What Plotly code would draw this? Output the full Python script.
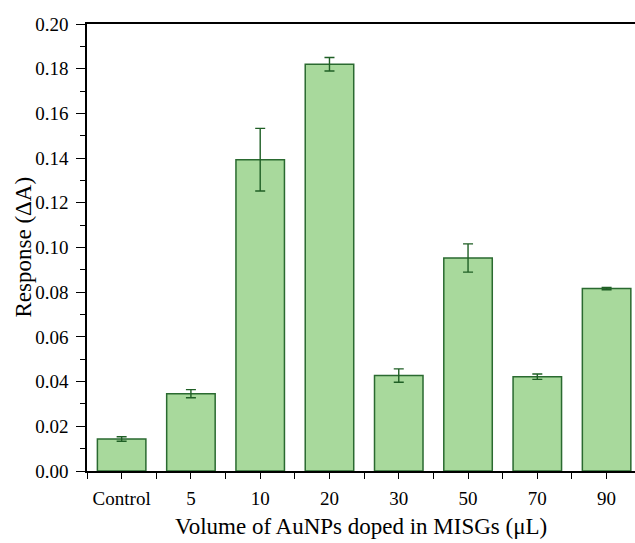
import plotly.graph_objects as go

categories = ["Control", "5", "10", "20", "30", "50", "70", "90"]
response = [0.0143, 0.0346, 0.1393, 0.1820, 0.0427, 0.0953, 0.0422, 0.0816]
errors = [0.0010, 0.0018, 0.0140, 0.0030, 0.0030, 0.0063, 0.0012, 0.0005]

xpos = list(range(len(categories)))

font_family = "Liberation Serif, Times New Roman, serif"
tfont = dict(family=font_family, size=19, color="black")

fig = go.Figure()
fig.add_trace(go.Bar(
    x=xpos, y=response, width=0.7,
    marker=dict(color="#a8d99c", line=dict(color="#2a6a30", width=1.5)),
    error_y=dict(type="data", array=errors, visible=True,
                 color="#1f5f25", thickness=1.4, width=5),
    showlegend=False, hoverinfo="skip",
))

fig.update_layout(
    width=635, height=543,
    margin=dict(l=87, r=0, t=24, b=72, autoexpand=False),
    plot_bgcolor="white", paper_bgcolor="white",
    font=dict(family=font_family, color="black", size=19),
    xaxis=dict(
        range=[-0.5, 7.41], automargin=False,
        tickmode="array", tickvals=xpos, ticktext=categories,
        ticks="outside", ticklen=6, tickwidth=1.3, tickcolor="black",
        minor=dict(tickmode="array", tickvals=[i + 0.5 for i in range(-1, 8)],
                   ticks="outside", ticklen=6, tickwidth=1.3, tickcolor="black"),
        showline=True, linecolor="black", linewidth=1.5, mirror=True,
        showgrid=False, zeroline=False,
        tickfont=tfont, ticklabelstandoff=3,
    ),
    yaxis=dict(
        range=[0, 0.2], automargin=False,
        tickmode="linear", tick0=0, dtick=0.02, tickformat=".2f",
        ticks="outside", ticklen=9, tickwidth=1.3, tickcolor="black",
        minor=dict(dtick=0.01, ticks="outside", ticklen=5, tickwidth=1.3, tickcolor="black"),
        showline=True, linecolor="black", linewidth=1.5,
        showgrid=False, zeroline=False,
        tickfont=tfont, ticklabelstandoff=4,
    ),
    annotations=[
        dict(text="Volume of AuNPs doped in MISGs (μL)", xref="paper", yref="paper",
             x=0.5, y=0, yshift=-55, xanchor="center", yanchor="middle",
             showarrow=False, font=dict(family=font_family, size=23, color="black")),
        dict(text="Response (ΔA)", xref="paper", yref="paper",
             x=0, y=0.5, xshift=-64, xanchor="center", yanchor="middle", textangle=-90,
             showarrow=False, font=dict(family=font_family, size=23, color="black")),
    ],
)

fig.write_html("out.html", config={"displayModeBar": False},
               post_script="document.body.style.margin='0';document.body.style.overflow='hidden';")
